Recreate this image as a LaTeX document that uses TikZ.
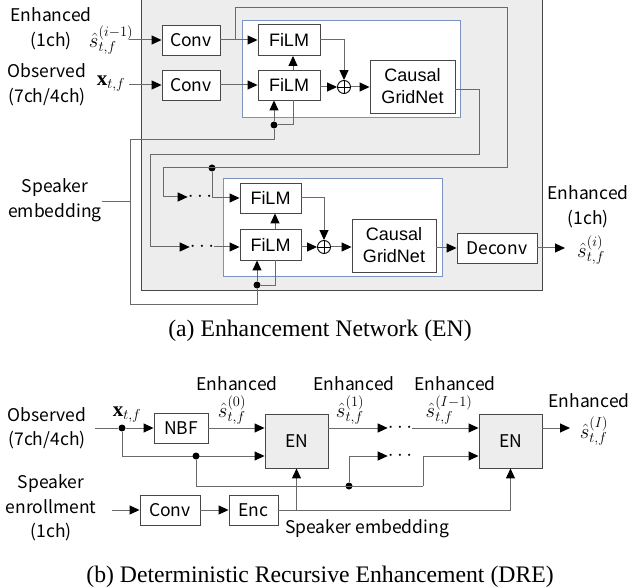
\documentclass[tikz,border=0pt]{standalone}
\usepackage{fontspec}
\setmainfont{Liberation Serif}
\setsansfont{Liberation Sans}
\newfontfamily\gothic{Noto Sans CJK JP}
\usetikzlibrary{arrows.meta}

\definecolor{framegray}{HTML}{EDEDED}
\definecolor{linegray}{HTML}{6A6A6A}
\definecolor{edgegray}{HTML}{474747}
\definecolor{blockblue}{HTML}{7A93C0}

\newcommand\gfont{\gothic\fontsize{17.5}{24.5}\selectfont}
\newcommand\afont{\sffamily\fontsize{18}{22}\selectfont}
\newcommand\mfont{\fontsize{21}{24}\selectfont}

\tikzset{
  blk/.style={draw=edgegray, fill=white, line width=0.9pt, inner sep=0pt, font=\gfont},
  ablk/.style={blk, font=\afont, align=center},
  enblk/.style={blk, fill=framegray, minimum width=63pt, minimum height=54pt},
  conn/.style={draw=linegray, line width=1pt},
  arr/.style={conn, -{Triangle[length=10pt,width=9pt,color=black]}},
  jdot/.style={circle, fill=black, inner sep=0pt, minimum size=7pt},
  lbl/.style={inner sep=0pt, align=center, font=\gfont},
  mlbl/.style={inner sep=0pt, font=\mfont},
  sumnode/.style={circle, draw=black, line width=0.9pt, minimum size=13pt, inner sep=0pt},
  bluebox/.style={draw=blockblue, fill=white, line width=0.8pt},
  caption/.style={inner sep=0pt, font=\rmfamily\fontsize{23.7}{27}\selectfont}
}

\begin{document}
\begin{tikzpicture}[x=1pt,y=-1pt]
\useasboundingbox (0,0) rectangle (632,588);

%% ---------------- (a) Enhancement Network ----------------
\fill[framegray] (141,0) rectangle (542,290);
\draw[edgegray, line width=1pt] (141,0) -- (141,290) -- (542,290) -- (542,0);

\draw[bluebox] (242,20) rectangle (460,117);
\draw[bluebox] (223,178) rectangle (442,276);

% inputs
\node[lbl] (enhA) at (51,29) {Enhanced\\(1ch)};
\node[mlbl] (sprev) at (111,40) {$\hat{s}^{(i-1)}_{t,f}$};
\node[lbl] (obsA) at (47,85) {Observed\\(7ch/4ch)};
\node[mlbl] (xA) at (111,84) {$\mathbf{x}_{t,f}$};
\coordinate (inA) at (129,40);
\coordinate (inB) at (129,85);

% first block
\node[blk, minimum width=58pt, minimum height=30pt] (convA) at (191,40) {Conv};
\node[blk, minimum width=58pt, minimum height=30pt] (convB) at (191,85) {Conv};
\node[ablk, minimum width=62pt, minimum height=31pt] (filmA1) at (289,40) {FiLM};
\node[ablk, minimum width=62pt, minimum height=30pt] (filmB1) at (289,85) {FiLM};
\node[sumnode] (sum1) at (344,87) {};
\draw[line width=0.9pt] (sum1.north) -- (sum1.south) (sum1.west) -- (sum1.east);
\node[ablk, minimum width=85pt, minimum height=53pt] (grid1) at (412.5,86.5) {Causal\\GridNet};

% second block
\node[ablk, minimum width=61pt, minimum height=30pt] (filmA2) at (270.5,198) {FiLM};
\node[ablk, minimum width=61pt, minimum height=31pt] (filmB2) at (270.5,244.5) {FiLM};
\node[sumnode] (sum2) at (324,247) {};
\draw[line width=0.9pt] (sum2.north) -- (sum2.south) (sum2.west) -- (sum2.east);
\node[ablk, minimum width=84pt, minimum height=53pt] (grid2) at (394,245.5) {Causal\\GridNet};
\node[blk, minimum width=80pt, minimum height=30pt] (deconv) at (497,248) {Deconv};
\node[mlbl] (dA) at (200,197) {$\cdots$};
\node[mlbl] (dB) at (202,247) {$\cdots$};

% output
\node[lbl] (enhOut) at (588,207) {Enhanced\\(1ch)};
\node[mlbl] (sout) at (591,250) {$\hat{s}^{(i)}_{t,f}$};
\coordinate (outA) at (565,248);

% speaker embedding
\node[lbl] (spk) at (55,200) {Speaker\\embedding};

% main connections
\draw[arr] (inA) -- (convA.west);
\draw[arr] (inB) -- (convB.west);
\draw[arr] (convA.east) -- (filmA1.west);
\draw[arr] (convB.east) -- (filmB1.west);
\draw[arr] (filmA1.east) -| (sum1.north);
\draw[arr] (filmB1.east |- sum1.west) -- (sum1.west);
\draw[arr] (sum1.east) -- (sum1.east -| grid1.west);

% skip of the enhanced-signal feature to the next block
\coordinate (brA) at (235,40);
\coordinate (tA) at (507,8);
\coordinate (lA) at (163,168);
\node[jdot] (jA) at (212,168) {};
\draw[conn] (brA) |- (tA) |- (lA);
\draw[arr] (lA) |- (dA.west);
\draw[arr] (jA) |- (filmA2.west);

% GridNet output to the next block
\coordinate (rB) at (479,155);
\coordinate (lB) at (150,247);
\draw[arr] (grid1.east |- 0,90) -| (rB) -| (lB) -- (dB.west);
\draw[arr] (dB.east) -- (dB.east -| filmB2.west);

% second block internals
\draw[arr] (filmA2.east) -| (sum2.north);
\draw[arr] (filmB2.east |- sum2.west) -- (sum2.west);
\draw[arr] (sum2.east) -- (sum2.east -| grid2.west);
\draw[arr] (grid2.east |- deconv.west) -- (deconv.west);
\draw[arr] (deconv.east) -- (outA);

% speaker embedding distribution
\coordinate (sTop) at (130,140);
\coordinate (sBot) at (130,304);
\node[jdot] (j1) at (274,125) {};
\node[jdot] (j2) at (257,285) {};
\draw[conn] (spk.east |- 0,202) -- (130,202);
\draw[conn] (sTop) -- (sBot);
\draw[conn] (sTop) -| (j1);
\draw[arr] (j1) -- (j1 |- filmB1.south);
\draw[conn] (j1) -| ([xshift=4pt]filmB1.south);
\draw[arr] ([xshift=4pt]filmB1.north) -- ([xshift=4pt]filmA1.south);
\draw[conn] (sBot) -| (j2);
\draw[arr] (j2) -- (j2 |- filmB2.south);
\draw[conn] (j2) -| ([xshift=4.5pt]filmB2.south);
\draw[arr] ([xshift=4.5pt]filmB2.north) -- ([xshift=4.5pt]filmA2.south);

\node[caption] (capA) at (320,331) {(a) Enhancement Network (EN)};

%% ---------------- (b) Deterministic Recursive Enhancement ----------------
\node[lbl] (obsB) at (47,428) {Observed\\(7ch/4ch)};
\node[mlbl] (xB) at (127,415) {$\mathbf{x}_{t,f}$};
\coordinate (inObs) at (95,428);
\node[jdot] (jx) at (122,428) {};

\node[blk, minimum width=54pt, minimum height=30pt] (nbf) at (181,428) {NBF};
\node[enblk] (en1) at (296.5,441) {EN};
\node[enblk] (en2) at (510.5,441) {EN};

\node[lbl] (e0) at (237,384) {Enhanced};
\node[mlbl] (s0) at (232,410) {$\hat{s}^{(0)}_{t,f}$};
\node[lbl] (e1) at (354,384) {Enhanced};
\node[mlbl] (s1) at (350,410) {$\hat{s}^{(1)}_{t,f}$};
\node[lbl] (e2) at (455,384) {Enhanced};
\node[mlbl] (s2) at (449,410) {$\hat{s}^{(I-1)}_{t,f}$};
\node[lbl] (e3) at (589,401) {Enhanced};
\node[mlbl] (s3) at (594,431) {$\hat{s}^{(I)}_{t,f}$};
\coordinate (outB) at (570,428);

\node[mlbl] (dC) at (400,428) {$\cdots$};
\node[mlbl] (dD) at (400,456) {$\cdots$};

\draw[conn] (inObs) -- (jx);
\draw[arr] (jx) -- (nbf.west);
\draw[arr] (nbf.east) -- (nbf.east -| en1.west);
\draw[arr] (jx) |- (en1.west |- 0,456);
\node[jdot] (jy) at (196,456) {};
\node[jdot] (jz) at (349,486) {};
\coordinate (bR) at (423,486);
\draw[conn] (jy) |- (bR);
\draw[arr] (bR) |- (en2.west |- 0,456);
\draw[arr] (jz) |- (dD.west);
\draw[arr] (en1.east |- 0,428) -- (dC.west);
\draw[arr] (dC.east) -- (en2.west |- 0,428);
\draw[arr] (en2.east |- 0,428) -- (outB);

% speaker enrollment branch
\node[lbl] (enr) at (51,508) {Speaker\\enrollment\\(1ch)};
\coordinate (inEnr) at (112,510);
\node[blk, minimum width=60pt, minimum height=30pt] (convC) at (170,510) {Conv};
\node[blk, minimum width=49pt, minimum height=30pt] (enc) at (253.5,510) {Enc};
\draw[arr] (inEnr) -- (convC.west);
\draw[arr] (convC.east) -- (enc.west);
\coordinate (eRight) at (510.5,510);
\draw[conn] (enc.east) -- (eRight);
\draw[arr] (eRight) -- (en2.south);
\draw[arr] (en1.south |- enc.east) -- (en1.south);
\node[lbl, anchor=west] (spkB) at (285,529) {Speaker embedding};

\node[caption] (capB) at (320,577) {(b) Deterministic Recursive Enhancement (DRE)};
\end{tikzpicture}
\end{document}
